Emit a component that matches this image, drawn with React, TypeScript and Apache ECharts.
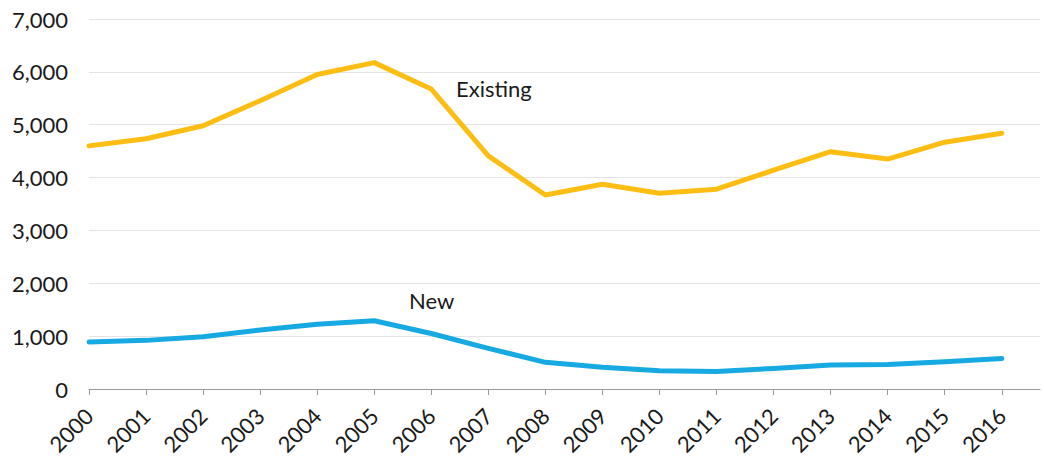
import React, { useEffect, useRef } from "react";
import * as echarts from "echarts";

const years = [2000, 2001, 2002, 2003, 2004, 2005, 2006, 2007, 2008, 2009, 2010, 2011, 2012, 2013, 2014, 2015, 2016];
const existing = [4600, 4735, 4980, 5455, 5950, 6175, 5675, 4410, 3670, 3875, 3705, 3780, 4140, 4490, 4350, 4670, 4840];
const newHomes = [890, 920, 990, 1115, 1225, 1290, 1050, 770, 505, 410, 345, 330, 390, 455, 465, 515, 575];
const yTicks = [0, 1000, 2000, 3000, 4000, 5000, 6000, 7000];

export default function App() {
  const ref = useRef<HTMLDivElement>(null);
  useEffect(() => {
    document.body.style.margin = "0";
    if (!ref.current) return;
    const chart = echarts.init(ref.current, undefined, { renderer: "svg" });
    const font = "Lato, 'Noto Sans', sans-serif";
    chart.setOption({
      animation: false,
      grid: { left: 89, right: 4, top: 19, bottom: 70, containLabel: false },
      xAxis: {
        type: "value",
        min: 2000,
        max: 2016.67,
        interval: 1,
        axisLine: { show: true, lineStyle: { color: "#9a9a9a", width: 1 } },
        axisTick: { show: true, length: 6, lineStyle: { color: "#9a9a9a" }, customValues: years },
        splitLine: { show: false },
        axisLabel: {
          customValues: years,
          rotate: 45,
          fontSize: 22,
          fontFamily: font,
          color: "#1a1a1a",
          margin: 23,
          formatter: (v: number) => String(v),
        },
      },
      yAxis: {
        type: "value",
        min: 0,
        max: 7000,
        interval: 1000,
        axisLine: { show: false },
        axisTick: { show: false },
        splitLine: { show: true, lineStyle: { color: "#e4e4e4", width: 1 } },
        axisLabel: {
          customValues: yTicks,
          fontSize: 22,
          fontFamily: font,
          color: "#1a1a1a",
          margin: 21,
          formatter: (v: number) => v.toLocaleString("en-US"),
        },
      },
      series: [
        {
          name: "Existing",
          type: "line",
          data: years.map((y, i) => [y, existing[i]]),
          showSymbol: false,
          lineStyle: { color: "#FDBE14", width: 5, cap: "round", join: "round" },
          itemStyle: { color: "#FDBE14" },
        },
        {
          name: "New",
          type: "line",
          data: years.map((y, i) => [y, newHomes[i]]),
          showSymbol: false,
          lineStyle: { color: "#17A9E1", width: 5, cap: "round", join: "round" },
          itemStyle: { color: "#17A9E1" },
        },
      ],
      graphic: [
        {
          type: "text",
          left: 456,
          top: 77,
          style: { text: "Existing", fontSize: 22, fontFamily: font, fill: "#1a1a1a" },
        },
        {
          type: "text",
          left: 409,
          top: 289,
          style: { text: "New", fontSize: 22, fontFamily: font, fill: "#1a1a1a" },
        },
      ],
    });
    return () => chart.dispose();
  }, []);
  return <div ref={ref} style={{ width: 1044, height: 459 }} />;
}
